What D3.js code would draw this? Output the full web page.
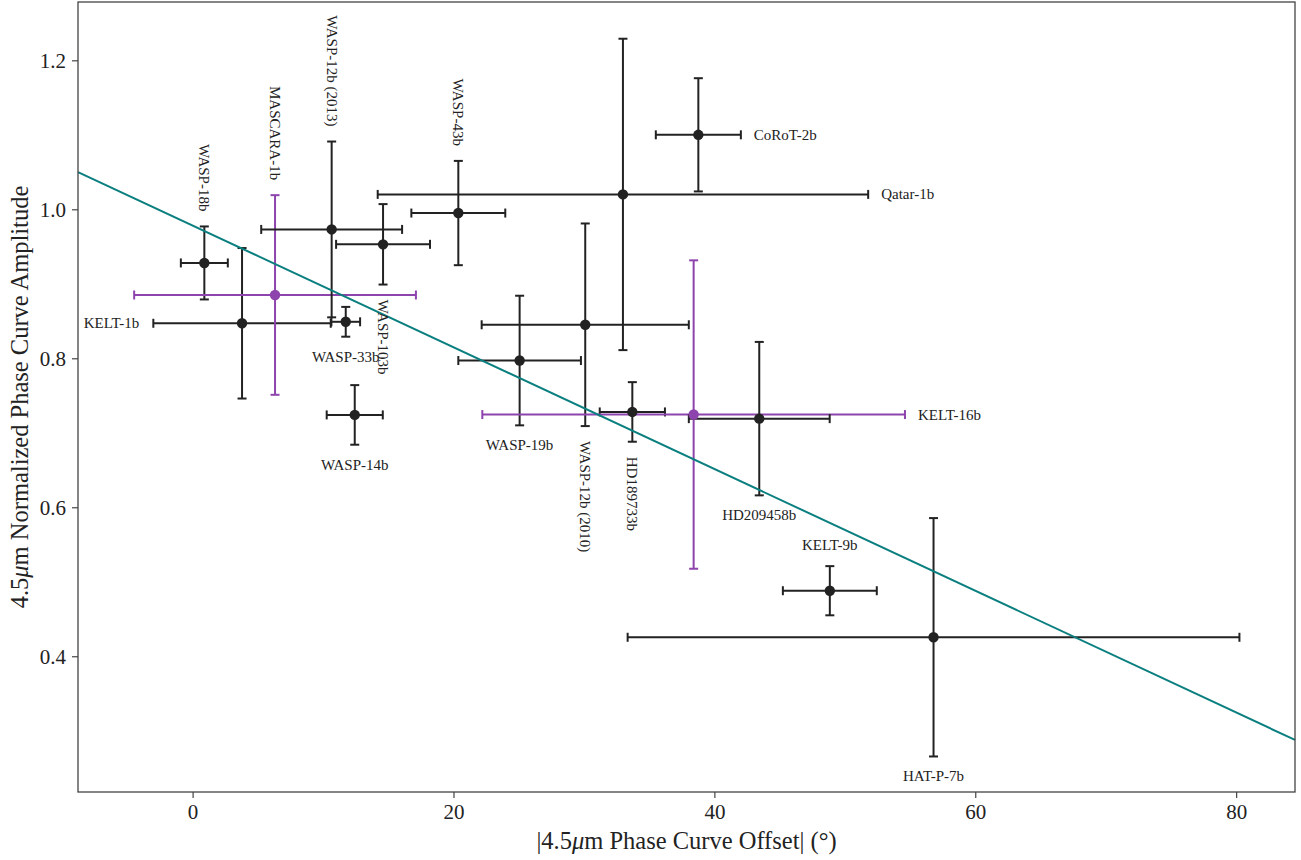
<!DOCTYPE html>
<html>
<head>
<meta charset="utf-8">
<script src="https://cdn.jsdelivr.net/npm/d3@7"></script>
<style>
  html, body { margin: 0; padding: 0; background: #fff; }
  text { font-family: "Liberation Serif", "DejaVu Serif", serif; fill: #222; }
</style>
</head>
<body>
<svg id="chart" width="1301" height="860"></svg>
<script>
// ---- data ----
const planets = ["WASP-18b","KELT-1b","MASCARA-1b","WASP-12b (2013)","WASP-33b","WASP-103b","WASP-14b","WASP-43b","Qatar-1b","CoRoT-2b","WASP-12b (2010)","WASP-19b","HD189733b","KELT-16b","HD209458b","KELT-9b","HAT-P-7b"];
const offsets    = [0.90, 3.79, 6.32, 10.66, 11.74, 14.60, 12.43, 20.37, 32.99, 38.77, 30.10, 25.07, 33.71, 38.41, 43.44, 48.85, 56.80];
const offsetErr  = [1.80, 6.80, 10.80, 5.40, 1.10, 3.60, 2.15, 3.60, 18.80, 3.26, 7.94, 4.70, 2.50, 16.20, 5.40, 3.60, 23.45];
const amplitudes = [0.928, 0.847, 0.885, 0.973, 0.849, 0.953, 0.724, 0.995, 1.020, 1.100, 0.845, 0.797, 0.728, 0.7245, 0.719, 0.488, 0.4255];
const ampErr     = [0.049, 0.101, 0.134, 0.118, 0.020, 0.054, 0.040, 0.070, 0.209, 0.076, 0.136, 0.087, 0.040, 0.207, 0.103, 0.033, 0.160];
const groups     = ["a","a","b","a","a","a","a","a","a","a","a","a","a","b","a","a","a"];
const labelSides = ["aboveV","left","aboveV","aboveV","below","belowV","below","aboveV","right","right","belowV","below","belowV","right","below","above","below"];
const fitSlope = -0.008171;
const fitIntercept = 0.9782;
const xTicks = [0, 20, 40, 60, 80];
const yTicks = [0.4, 0.6, 0.8, 1.0, 1.2];
const xDomain = [-8.785, 84.51];
const yDomain = [0.2178, 1.2783];

// ---- layout ----
const svg = d3.select("#chart");
const L = 78, R = 1295, T = 2, B = 792;
const x = d3.scaleLinear().domain(xDomain).range([L, R]);
const y = d3.scaleLinear().domain(yDomain).range([B, T]);
const colors = { a: "#222222", b: "#8e44ad" };
const fitColor = "#0b7f7f";

const data = planets.map((name, i) => ({
  name, x: offsets[i], xe: offsetErr[i], y: amplitudes[i], ye: ampErr[i],
  g: groups[i], side: labelSides[i]
}));

// axes
const xAxis = d3.axisBottom(x).tickValues(xTicks).tickFormat(d3.format("d")).tickSize(6).tickPadding(6);
const yAxis = d3.axisLeft(y).tickValues(yTicks).tickFormat(d3.format(".1f")).tickSize(6).tickPadding(6);

const gx = svg.append("g").attr("transform", `translate(0,${B})`).call(xAxis);
const gy = svg.append("g").attr("transform", `translate(${L},0)`).call(yAxis);
[gx, gy].forEach(g => {
  g.select(".domain").remove();
  g.selectAll(".tick line").attr("stroke", "#333").attr("stroke-width", 1.1);
  g.selectAll(".tick text").attr("font-size", 21).attr("fill", "#222")
    .style("font-family", '"Liberation Serif", serif');
});

// error bars
const cap = 4.5;
const eb = svg.append("g").attr("class", "errorbars");
data.forEach(d => {
  const c = colors[d.g];
  const g = eb.append("g").attr("stroke", c).attr("stroke-width", 2).attr("fill", "none");
  const x0 = x(d.x - d.xe), x1 = x(d.x + d.xe), yc = y(d.y);
  const y0 = y(d.y - d.ye), y1 = y(d.y + d.ye), xc = x(d.x);
  g.append("line").attr("x1", x0).attr("x2", x1).attr("y1", yc).attr("y2", yc);
  g.append("line").attr("x1", xc).attr("x2", xc).attr("y1", y0).attr("y2", y1);
  g.append("line").attr("x1", x0).attr("x2", x0).attr("y1", yc - cap).attr("y2", yc + cap);
  g.append("line").attr("x1", x1).attr("x2", x1).attr("y1", yc - cap).attr("y2", yc + cap);
  g.append("line").attr("x1", xc - cap).attr("x2", xc + cap).attr("y1", y0).attr("y2", y0);
  g.append("line").attr("x1", xc - cap).attr("x2", xc + cap).attr("y1", y1).attr("y2", y1);
});
// markers
svg.append("g").selectAll("circle").data(data).join("circle")
  .attr("cx", d => x(d.x)).attr("cy", d => y(d.y)).attr("r", 5.2)
  .attr("fill", d => colors[d.g]);

// fit line
svg.append("line")
  .attr("x1", x(xDomain[0])).attr("y1", y(fitIntercept + fitSlope * xDomain[0]))
  .attr("x2", x(xDomain[1])).attr("y2", y(fitIntercept + fitSlope * xDomain[1]))
  .attr("stroke", fitColor).attr("stroke-width", 2);

// labels
const lab = svg.append("g").attr("font-size", 15);
data.forEach(d => {
  const xc = x(d.x), yc = y(d.y);
  const t = lab.append("text").text(d.name).attr("fill", "#333");
  if (d.side === "aboveV") {
    t.attr("transform", `translate(${xc},${y(d.y + d.ye) - 15}) rotate(90)`)
      .attr("text-anchor", "end").attr("dominant-baseline", "central");
  } else if (d.side === "belowV") {
    t.attr("transform", `translate(${xc},${y(d.y - d.ye) + 15}) rotate(90)`)
      .attr("text-anchor", "start").attr("dominant-baseline", "central");
  } else if (d.side === "below") {
    t.attr("x", xc).attr("y", y(d.y - d.ye) + 20)
      .attr("text-anchor", "middle").attr("dominant-baseline", "central");
  } else if (d.side === "above") {
    t.attr("x", xc).attr("y", y(d.y + d.ye) - 21)
      .attr("text-anchor", "middle").attr("dominant-baseline", "central");
  } else if (d.side === "right") {
    t.attr("x", x(d.x + d.xe) + 13).attr("y", yc)
      .attr("text-anchor", "start").attr("dominant-baseline", "central");
  } else {
    t.attr("x", x(d.x - d.xe) - 14).attr("y", yc)
      .attr("text-anchor", "end").attr("dominant-baseline", "central");
  }
});

// frame
svg.append("rect").attr("x", L).attr("y", T).attr("width", R - L).attr("height", B - T)
  .attr("fill", "none").attr("stroke", "#444").attr("stroke-width", 1.3);

// axis labels
const xl = svg.append("text").attr("x", (L + R) / 2).attr("y", 849)
  .attr("text-anchor", "middle").attr("font-size", 24.5);
xl.append("tspan").text("|4.5");
xl.append("tspan").text("μ").attr("font-style", "italic");
xl.append("tspan").text("m Phase Curve Offset| (°)");

const yl = svg.append("text").attr("transform", `translate(28,${(T + B) / 2}) rotate(-90)`)
  .attr("text-anchor", "middle").attr("font-size", 24.5);
yl.append("tspan").text("4.5");
yl.append("tspan").text("μ").attr("font-style", "italic");
yl.append("tspan").text("m Normalized Phase Curve Amplitude");
</script>
</body>
</html>
